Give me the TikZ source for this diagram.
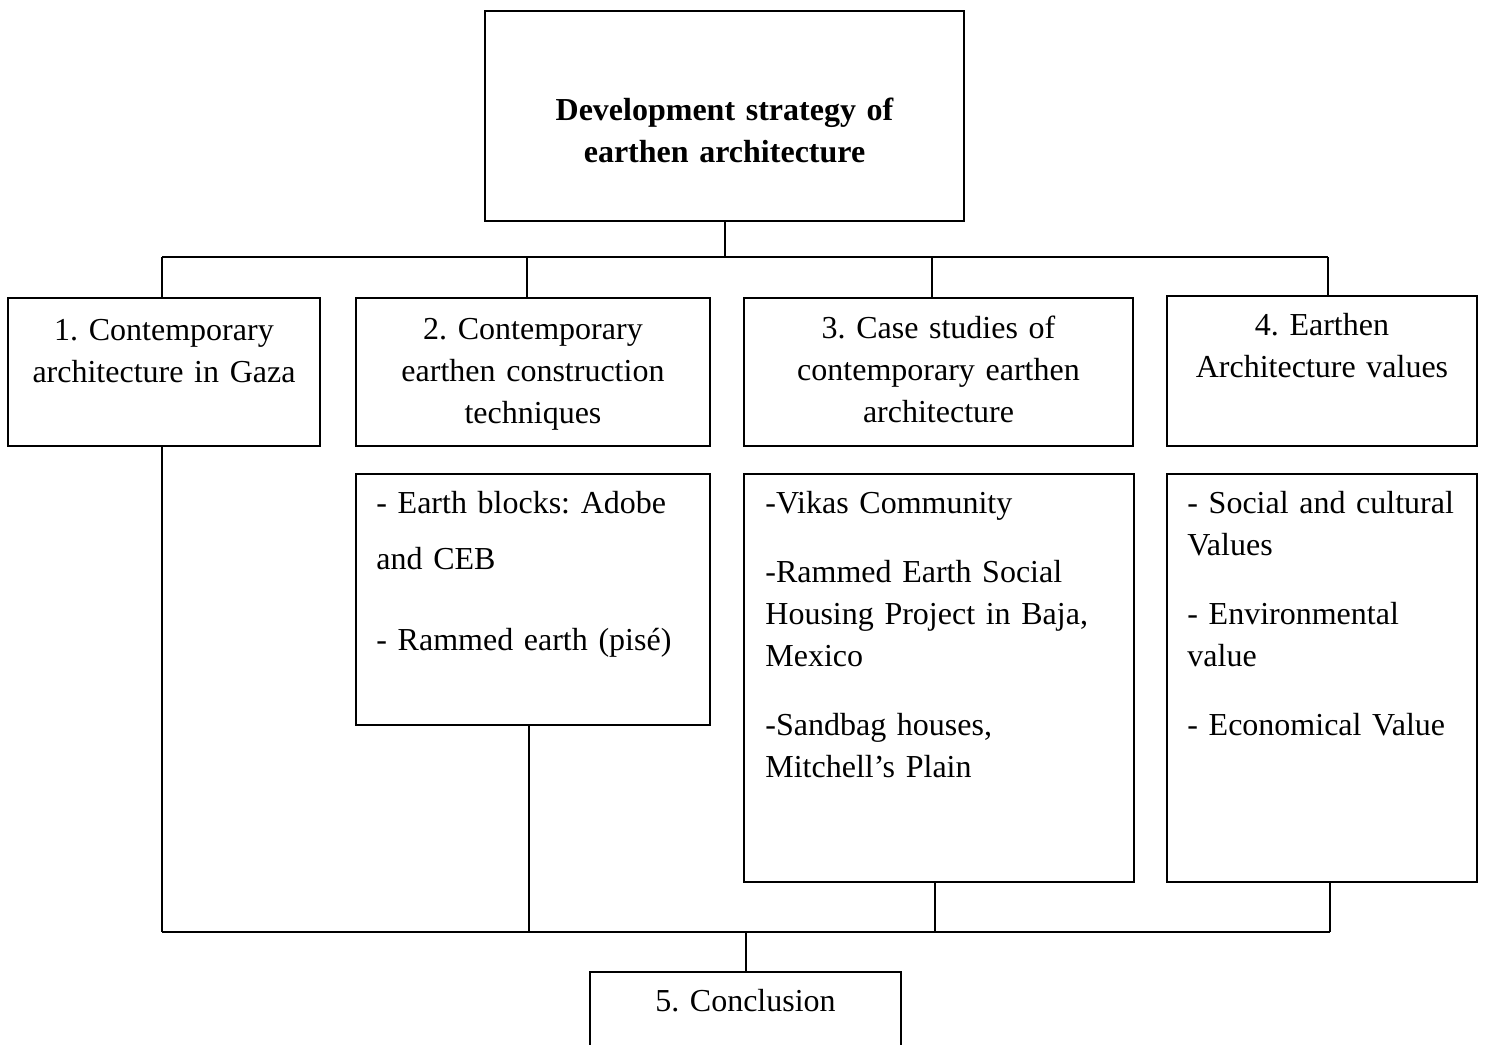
\documentclass[tikz,border=0pt]{standalone}
\usepackage{fontspec}
\setmainfont{Liberation Serif}
\usetikzlibrary{positioning}

\begin{document}
\frenchspacing
\begin{tikzpicture}[x=0.5pt,y=-0.5pt]
  % some styles
  \tikzset{
    box/.style={
      draw,
      line width=1pt,
      anchor=north west,
      inner sep=0mm,
      outer sep=0mm,
    },
    txt/.style={
      inner sep=0mm,
      text width=#1,
      align=center,
      font=\fontsize{16}{21}\selectfont,
    },
    lst/.style={
      inner sep=0mm,
      text width=#1,
      align=left,
      font=\fontsize{16}{21}\selectfont,
    },
    link/.style={line width=1pt},
  }
  \clip (0,0) rectangle (1485,1045);
  % the boxes (pixel grid, y going down)
  \node[box,minimum width=239.5pt,minimum height=105pt] (b0) at (485,11) {};
  \node[box,minimum width=156pt,minimum height=74pt] (b1) at (8,298) {};
  \node[box,minimum width=177pt,minimum height=74pt] (b2) at (356,298) {};
  \node[box,minimum width=194.5pt,minimum height=74pt] (b3) at (744,298) {};
  \node[box,minimum width=155pt,minimum height=75pt] (b4) at (1167,296) {};
  \node[box,minimum width=177pt,minimum height=125.5pt] (b2s) at (356,474) {};
  \node[box,minimum width=195pt,minimum height=204pt] (b3s) at (744,474) {};
  \node[box,minimum width=155pt,minimum height=204pt] (b4s) at (1167,474) {};
  \node[box,minimum width=155.5pt,minimum height=64pt] (b5) at (590,972) {};
  % titles, first baseline hung from the top of each box
  \node[txt=230pt,below=54.5pt of b0.north,anchor=base,font=\fontsize{16}{21}\selectfont\bfseries] (t0)
    {Development strategy of\\earthen architecture};
  \node[txt=150pt,below=21pt of b1.north,anchor=base] (t1)
    {1. Contemporary\\architecture in Gaza};
  \node[txt=170pt,below=20.5pt of b2.north,anchor=base] (t2)
    {2. Contemporary\\earthen construction\\techniques};
  \node[txt=190pt,below=20pt of b3.north,anchor=base] (t3)
    {3. Case studies of\\contemporary earthen\\architecture};
  \node[txt=150pt,below=19.5pt of b4.north,anchor=base] (t4)
    {4. Earthen\\Architecture values};
  \node[txt=150pt,below=19.5pt of b5.north,anchor=base] (t5) {5. Conclusion};
  % lists
  \node[lst=165pt,below right=19.5pt and 10pt of b2s.north west,anchor=base west] (l2)
    {- Earth blocks: Adobe\\[7pt]and CEB\\[19.5pt]- Rammed earth (pisé)};
  \node[lst=185pt,below right=19.5pt and 10.5pt of b3s.north west,anchor=base west] (l3)
    {-Vikas Community\\[13.5pt]-Rammed Earth Social\\Housing Project in Baja,\\Mexico\\[13.5pt]-Sandbag houses,\\Mitchell’s Plain};
  \node[lst=145pt,below right=19.5pt and 10pt of b4s.north west,anchor=base west] (l4)
    {- Social and cultural\\Values\\[13.5pt]- Environmental\\value\\[13.5pt]- Economical Value};
  % upper bus
  \coordinate (j1) at (162,257);
  \coordinate (j2) at (527,257);
  \coordinate (j3) at (932,257);
  \coordinate (j4) at (1328,257);
  \draw[link] (b0.south) -- (b0.south |- j1);
  \draw[link] (j1) -- (j4);
  \foreach \i in {1,...,4} {
    \draw[link] (j\i) -- (j\i |- b\i.north);
  }
  % lower bus
  \coordinate (k1) at (162,932);
  \coordinate (k2) at (529,932);
  \coordinate (k3) at (935,932);
  \coordinate (k4) at (1330,932);
  \foreach \i/\from in {1/b1,2/b2s,3/b3s,4/b4s} {
    \draw[link] (k\i |- \from.south) -- (k\i);
  }
  \draw[link] (k1) -- (k4);
  \draw[link] (b5.north) -- (b5.north |- k1);
\end{tikzpicture}
\end{document}
